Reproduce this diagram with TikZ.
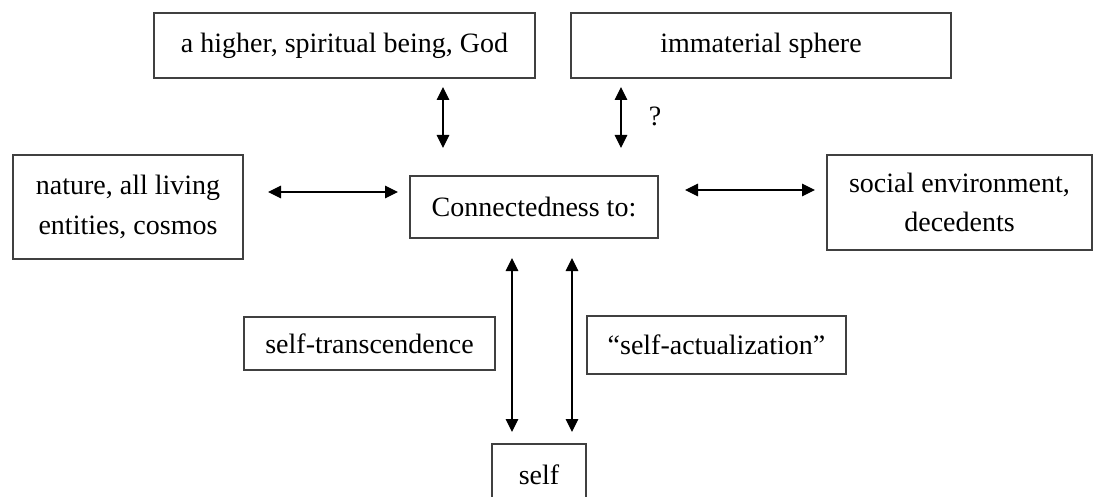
\documentclass[tikz,border=0pt]{standalone}
\usepackage{fontspec}
\setmainfont{Liberation Serif}
\usetikzlibrary{arrows.meta}
\begin{document}
\begin{tikzpicture}[x=1pt,y=-1pt,
  box/.style={draw=black!75,line width=1.1pt,inner sep=0pt,align=center,font=\fontsize{28}{36}\selectfont},
  link/.style={line width=1.1pt,{Triangle[length=13pt,width=12.5pt]}-{Triangle[length=13pt,width=12.5pt]}},
  lbl/.style={inner sep=0pt,font=\fontsize{28}{34}\selectfont}]
\useasboundingbox (0,0) rectangle (1094,497);
\node[box,minimum width=381pt,minimum height=65pt] (god) at (344.5,45.5) {a higher, spiritual being, God};
\node[box,minimum width=380pt,minimum height=65pt] (imm) at (761,45.5) {immaterial sphere};
\node[box,minimum width=230pt,minimum height=104pt,font=\fontsize{28}{40}\selectfont] (nat) at (128,207) {nature, all living\\entities, cosmos};
\node[box,minimum width=248pt,minimum height=62pt] (con) at (534,207) {Connectedness to:};
\node[box,minimum width=265pt,minimum height=95pt,font=\fontsize{28}{39}\selectfont] (soc) at (959.5,202.5) {social environment,\\decedents};
\node[box,minimum width=251pt,minimum height=53pt] (str) at (369.5,343.5) {self-transcendence};
\node[box,minimum width=259pt,minimum height=58pt] (sac) at (716.5,345) {``self-actualization''};
\node[box,minimum width=94pt,minimum height=62pt] (self) at (539,475) {self};
\node[lbl] (q) at (655,116) {?};
\coordinate (t1a) at (443,87); \coordinate (t1b) at (443,148);
\coordinate (t2a) at (621,87); \coordinate (t2b) at (621,148);
\coordinate (la) at (268,192); \coordinate (lb) at (398,192);
\coordinate (ra) at (685,190); \coordinate (rb) at (815,190);
\coordinate (b1a) at (512,258); \coordinate (b1b) at (512,432);
\coordinate (b2a) at (572,258); \coordinate (b2b) at (572,432);
\draw[link] (t1a) -- (t1b);
\draw[link] (t2a) -- (t2b);
\draw[link] (la) -- (lb);
\draw[link] (ra) -- (rb);
\draw[link] (b1a) -- (b1b);
\draw[link] (b2a) -- (b2b);
\end{tikzpicture}
\end{document}
